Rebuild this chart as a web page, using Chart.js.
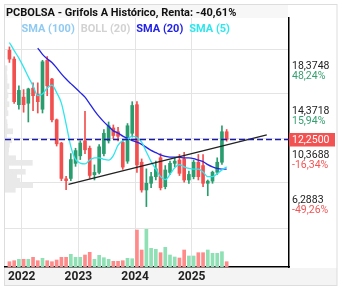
<!DOCTYPE html>
<html>
<head>
<meta charset="utf-8">
<script src="https://cdn.jsdelivr.net/npm/chart.js@4.4.1/dist/chart.umd.min.js"></script>
<style>
  html, body { margin: 0; padding: 0; background: #fff; }
</style>
</head>
<body>
<canvas id="grafico" width="343" height="290"></canvas>
<script>
// Datos mensuales (velas)
const meses = [
  '2021-10','2021-11','2021-12',
  '2022-01','2022-02','2022-03','2022-04','2022-05','2022-06','2022-07','2022-08','2022-09','2022-10','2022-11','2022-12',
  '2023-01','2023-02','2023-03','2023-04','2023-05','2023-06','2023-07','2023-08','2023-09','2023-10','2023-11','2023-12',
  '2024-01','2024-02','2024-03','2024-04','2024-05','2024-06','2024-07','2024-08','2024-09','2024-10','2024-11','2024-12',
  '2025-01','2025-02','2025-03','2025-04','2025-05','2025-06','2025-07','2025-08'
];
const aperturas = [20.30, 19.50, 15.39, 16.07, 15.52, 16.88, 16.34, 14.98, 19.39, 17.70, 14.03, 11.93, 8.70, 8.74, 10.10,
  10.78, 12.13, 11.46, 9.08, 9.28, 10.98, 12.13, 13.29, 12.95, 11.99, 10.30, 12.81,
  15.39, 10.20, 7.70, 8.30, 8.90, 10.60, 8.00, 9.28, 10.10, 10.40, 10.50, 8.60,
  8.90, 10.20, 9.90, 8.30, 8.50, 9.30, 10.20, 12.95];
const maximos = [20.60, 19.70, 17.09, 16.75, 16.88, 17.36, 17.36, 19.39, 19.73, 17.76, 14.10, 12.00, 8.94, 10.98, 11.46,
  12.13, 14.78, 11.66, 9.96, 11.79, 13.15, 13.83, 13.56, 13.35, 12.13, 13.69, 15.66,
  15.66, 10.50, 9.60, 9.30, 10.30, 10.98, 9.90, 10.30, 10.60, 10.90, 11.10, 9.40,
  10.40, 10.90, 10.90, 8.60, 9.40, 10.60, 13.49, 13.15];
const minimos = [19.20, 15.50, 14.98, 14.71, 13.83, 14.85, 14.64, 14.64, 16.20, 13.83, 11.66, 8.54, 7.72, 8.54, 9.83,
  10.44, 10.98, 8.74, 8.60, 9.15, 10.78, 11.93, 12.34, 12.13, 9.56, 10.10, 12.47,
  9.28, 7.50, 6.20, 7.90, 8.60, 7.70, 7.80, 9.08, 9.80, 9.00, 8.40, 8.30,
  8.70, 8.60, 8.00, 7.18, 8.30, 9.10, 10.00, 12.10];
const cierres = [19.50, 15.66, 16.68, 15.39, 16.81, 16.20, 15.66, 19.26, 17.09, 14.03, 11.86, 8.74, 8.54, 10.44, 11.25,
  11.93, 11.32, 9.01, 9.28, 11.59, 12.81, 13.49, 12.61, 12.54, 9.76, 13.49, 15.32,
  9.96, 7.70, 8.30, 8.90, 9.60, 7.90, 9.50, 10.10, 10.30, 9.20, 8.60, 9.10,
  10.20, 8.90, 8.30, 8.50, 9.30, 10.20, 12.95, 12.25];
const volumenes = [5.3, 6.3, 7.7, 7.7, 7.7, 9.7, 6.3, 8.7, 6.3, 5.3, 7, 9.7, 9.7, 12.7, 9.7,
  9.7, 12, 14.7, 7.7, 11.7, 9.3, 7.7, 5.7, 5.7, 6.3, 8.7, 8.3,
  37, 17, 37.7, 18.7, 17.7, 14.3, 19.7, 12, 10, 9, 17, 11,
  11, 14.3, 14.3, 17, 13.7, 13.7, 15.3, 5.3];

// Medias moviles
const sma20 = [null, null, null, null, null, null, 20.50, 19.93, 19.53, 19.19, 18.71, 18.17, 17.70, 17.29, 16.89,
  16.48, 16.07, 15.47, 14.86, 14.31, 13.84, 13.44, 13.03, 12.83, 12.56, 12.35, 12.15,
  12.01, 11.81, 11.54, 11.27, 11.07, 10.86, 10.73, 10.66, 10.66, 10.66, 10.59, 10.59,
  10.53, 10.39, 10.26, 9.98, 9.78, 9.64, 9.58, 9.58];
const sma5 = [21.00, 20.27, 19.59, 18.78, 17.90, 17.09, 16.21, 16.35, 16.89, 17.16, 16.48, 15.53, 13.64, 11.61, 10.46,
  10.12, 10.05, 10.39, 10.59, 10.59, 10.46, 10.39, 10.80, 11.74, 12.15, 12.29, 12.56,
  12.42, 12.01, 11.13, 10.26, 9.58, 8.90, 8.63, 9.10, 9.71, 9.98, 9.78, 9.64,
  9.58, 9.58, 9.31, 8.90, 8.90, 9.17, 9.51, 9.78];

// Linea de tendencia (x en meses desde ene-2022)
const tendenciaX = [9.9, 51.9];
const tendenciaY = [8.20, 12.67];

// Perfil de volumen por precio
const perfilPrecios = [7.72, 8.13, 8.53, 8.94, 9.34, 9.75, 10.15, 10.56, 10.97, 11.37, 11.78, 12.18, 12.59, 12.99,
  13.40, 13.81, 14.21, 14.62, 15.02, 15.43, 15.84, 16.24, 16.65, 17.05, 17.46, 17.87, 18.27, 18.68];
const perfilVolumen = [10.3, 27.7, 15, 11.7, 20.3, 3.7, 27.3, 10.7, 3.3, 3.7, 4.3, 6.7, 1.7, 7.7,
  2.3, 2, 1, 3, 2, 4, 2, 3, 2, 4, 2, 2, 1.5, 2];

// Eje de precios
const ticksPrecio = [18.3748, 14.3718, 10.3688, 6.2883];
const ticksPct = [48.24, 15.94, -16.34, -49.26];
const posAnios = [0, 12, 24, 36];
const etiquetasAnios = ['2022', '2023', '2024', '2025'];

const titulo = 'PCBOLSA - Grifols A Histórico, Renta: -40,61%';
const leyenda = ['SMA (100)', 'BOLL (20)', 'SMA (20)', 'SMA (5)'];
const coloresLeyenda = ['#90caf2', '#d2d2d2', '#2323e6', '#2ee6ee'];

const ROJO = '#f24f4f';
const VERDE = '#2a9d6e';

const xMes = meses.map(m => {
  const [a, mm] = m.split('-').map(Number);
  return (a - 2022) * 12 + (mm - 1) + 0.4;
});
const sube = cierres.map((c, i) => c >= aperturas[i]);
const colorVela = sube.map(s => s ? VERDE : ROJO);
const colorVol = sube.map(s => s ? '#8fe0b4' : '#ff8a8a');

const decoracion = {
  id: 'decoracion',
  beforeDraw(chart) {
    const ctx = chart.ctx;
    ctx.save();
    ctx.fillStyle = '#ffffff';
    ctx.fillRect(0, 0, chart.width, chart.height);
    // franja del eje de fechas y marco
    ctx.fillStyle = '#f4f4f4';
    ctx.fillRect(5, chart.chartArea.bottom + 1, 332, 17);
    ctx.strokeStyle = '#dddddd';
    ctx.lineWidth = 1;
    ctx.strokeRect(4.5, 4.5, 332.5, 281);
    ctx.restore();
  },
  afterDraw(chart) {
    const { ctx, chartArea, scales } = chart;
    ctx.save();
    // titulo
    ctx.fillStyle = 'rgba(247,247,247,0.97)';
    ctx.fillRect(chartArea.left, 5, chartArea.right - chartArea.left - 1, 13);
    ctx.fillStyle = '#111';
    ctx.font = 'bold 11px Roboto';
    ctx.textBaseline = 'alphabetic';
    ctx.fillText(titulo, 6, 16);
    // leyenda
    let lx = 21.5;
    leyenda.forEach((nombre, i) => {
      ctx.fillStyle = coloresLeyenda[i];
      ctx.fillText(nombre, lx, 32);
      lx += ctx.measureText(nombre).width + 6;
    });
    // etiquetas de precio y porcentaje
    ctx.font = '10.5px Roboto';
    ctx.textBaseline = 'middle';
    ticksPrecio.forEach((v, i) => {
      const y = scales.y.getPixelForValue(v);
      ctx.fillStyle = '#222';
      ctx.fillText(v.toFixed(4).replace('.', ','), chartArea.right + 3, y - 5);
      ctx.fillStyle = ticksPct[i] >= 0 ? '#35a06f' : '#f25555';
      ctx.fillText(ticksPct[i].toFixed(2).replace('.', ',') + '%', chartArea.right + 3, y + 5);
    });
    // precio actual
    const ultimo = cierres[cierres.length - 1];
    const yu = scales.y.getPixelForValue(ultimo);
    ctx.fillStyle = '#f25252';
    ctx.fillRect(chartArea.right, yu - 6.5, 46, 13.5);
    ctx.fillStyle = '#fff';
    ctx.fillText(ultimo.toFixed(4).replace('.', ','), chartArea.right + 3, yu + 0.5);
    // años
    ctx.font = 'bold 12px Roboto';
    ctx.textAlign = 'center';
    ctx.fillStyle = '#222';
    posAnios.forEach((v, i) => ctx.fillText(etiquetasAnios[i], scales.x.getPixelForValue(v), 277));
    ctx.restore();
  }
};

Chart.defaults.font.family = 'Roboto';

const ultimoCierre = cierres[cierres.length - 1];
const xMin = -3.54, xMax = 56.6;

new Chart(document.getElementById('grafico'), {
  type: 'bar',
  data: {
    datasets: [
      {
        type: 'bar',
        label: 'perfil',
        indexAxis: 'y',
        xAxisID: 'xProf',
        yAxisID: 'y',
        data: perfilPrecios.map((p, i) => ({ x: perfilVolumen[i], y: p })),
        backgroundColor: '#e9e9e9',
        barThickness: 5,
        grouped: false,
        order: 10
      },
      {
        type: 'bar',
        label: 'volumen',
        xAxisID: 'x',
        yAxisID: 'yVol',
        data: xMes.map((x, i) => ({ x, y: volumenes[i] })),
        backgroundColor: colorVol,
        barThickness: 3,
        grouped: false,
        order: 9
      },
      {
        type: 'bar',
        label: 'mechas',
        xAxisID: 'x',
        yAxisID: 'y',
        data: xMes.map((x, i) => ({ x, y: [minimos[i], maximos[i]] })),
        backgroundColor: colorVela,
        barThickness: 1,
        grouped: false,
        order: 8
      },
      {
        type: 'bar',
        label: 'cuerpos',
        xAxisID: 'x',
        yAxisID: 'y',
        data: xMes.map((x, i) => ({ x, y: [aperturas[i], cierres[i]] })),
        backgroundColor: colorVela,
        barThickness: 3,
        grouped: false,
        order: 7
      },
      {
        type: 'line',
        label: 'SMA (20)',
        xAxisID: 'x',
        yAxisID: 'y',
        data: xMes.map((x, i) => ({ x, y: sma20[i] })),
        borderColor: '#2323e6',
        borderWidth: 1.3,
        pointRadius: 0,
        cubicInterpolationMode: 'monotone',
        order: 5
      },
      {
        type: 'line',
        label: 'SMA (5)',
        xAxisID: 'x',
        yAxisID: 'y',
        data: xMes.map((x, i) => ({ x, y: sma5[i] })),
        borderColor: '#2ee6ee',
        borderWidth: 1.3,
        pointRadius: 0,
        cubicInterpolationMode: 'monotone',
        order: 4
      },
      {
        type: 'line',
        label: 'tendencia',
        xAxisID: 'x',
        yAxisID: 'y',
        data: tendenciaX.map((x, i) => ({ x, y: tendenciaY[i] })),
        borderColor: '#222',
        borderWidth: 1.3,
        pointRadius: 0,
        order: 3
      },
      {
        type: 'line',
        label: 'ultimo',
        xAxisID: 'x',
        yAxisID: 'y',
        data: [{ x: xMin, y: ultimoCierre }, { x: xMax, y: ultimoCierre }],
        borderColor: '#1a1aa8',
        borderWidth: 1.3,
        borderDash: [6, 3],
        pointRadius: 0,
        order: 2
      }
    ]
  },
  options: {
    responsive: false,
    animation: false,
    devicePixelRatio: 1,
    events: [],
    layout: { autoPadding: false, padding: { left: 5, right: 54, top: 18, bottom: 23 } },
    plugins: { legend: { display: false }, tooltip: { enabled: false } },
    scales: {
      x: {
        type: 'linear', min: xMin, max: xMax, offset: false,
        ticks: { display: false },
        grid: { color: '#e4e4e4', drawTicks: false, offset: false },
        border: { color: '#000', width: 1.5 },
        afterBuildTicks: s => { s.ticks = posAnios.map(v => ({ value: v })); }
      },
      y: {
        type: 'linear', position: 'right', min: 3.56, max: 20.40,
        ticks: { display: false },
        grid: { color: '#e4e4e4', drawTicks: false },
        border: { color: '#000', width: 1.5 },
        afterBuildTicks: s => { s.ticks = ticksPrecio.map(v => ({ value: v })); }
      },
      yVol: { type: 'linear', axis: 'y', display: false, min: 0, max: 249 },
      xProf: { type: 'linear', axis: 'x', display: false, min: 0, max: 284, offset: false }
    }
  },
  plugins: [decoracion]
});
</script>
</body>
</html>
